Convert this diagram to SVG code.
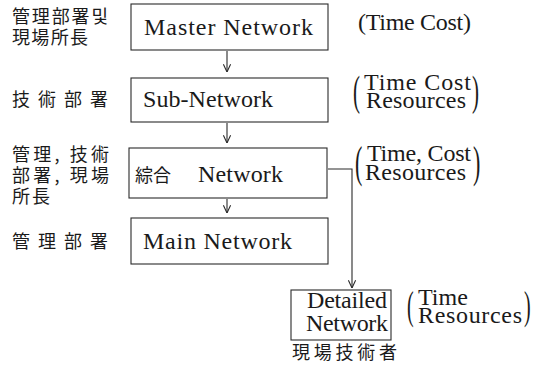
<svg xmlns="http://www.w3.org/2000/svg" width="543" height="370" viewBox="0 0 543 370">
  <style>
    .box { fill: none; stroke: #2a2a2a; stroke-width: 1.1; }
    .edge { fill: none; stroke: #2a2a2a; stroke-width: 1.1; }
    .lat { font-family: "Liberation Serif", "DejaVu Serif", "Times New Roman", serif; font-size: 24px; fill: #1a1a1a; }
    .cjk { font-family: "Noto Sans CJK KR", "Noto Sans CJK JP", sans-serif; font-size: 18px; fill: #1a1a1a; }
    .par { font-family: "Liberation Serif", "DejaVu Serif", "Times New Roman", serif; fill: #1a1a1a; }
  </style>
  <defs>
    <marker id="vee" viewBox="0 0 10 10" refX="9.5" refY="5" markerWidth="9" markerHeight="9" markerUnits="userSpaceOnUse" orient="auto">
      <path d="M1,1 L9.5,5 L1,9" fill="none" stroke="#2a2a2a" stroke-width="1.2"/>
    </marker>
  </defs>

  <!-- connectors -->
  <g id="connectors">
    <line class="edge" x1="227" y1="51" x2="227" y2="72" marker-end="url(#vee)"/>
    <line class="edge" x1="227" y1="123" x2="227" y2="143" marker-end="url(#vee)"/>
    <line class="edge" x1="227" y1="199" x2="227" y2="213" marker-end="url(#vee)"/>
    <polyline class="edge" points="328,169 352,169 352,288" marker-end="url(#vee)"/>
  </g>

  <!-- main chain of networks -->
  <g id="master">
    <rect class="box" x="131" y="4" width="197" height="46"/>
    <text class="lat" x="144" y="35" textLength="169" lengthAdjust="spacing">Master Network</text>
  </g>
  <g id="sub">
    <rect class="box" x="131" y="78" width="197" height="44"/>
    <text class="lat" x="143" y="107" textLength="130" lengthAdjust="spacing">Sub-Network</text>
  </g>
  <g id="combined">
    <rect class="box" x="129" y="148" width="198" height="50"/>
    <text class="cjk" x="135" y="182" font-size="20">綜合</text>
    <text class="lat" x="198" y="182" textLength="85" lengthAdjust="spacing">Network</text>
  </g>
  <g id="main">
    <rect class="box" x="131" y="218" width="197" height="46"/>
    <text class="lat" x="143" y="249" textLength="149" lengthAdjust="spacing">Main Network</text>
  </g>
  <g id="detailed">
    <rect class="box" x="291" y="290" width="100" height="50"/>
    <text class="lat" x="307" y="308" font-size="23" textLength="80" lengthAdjust="spacing">Detailed</text>
    <text class="lat" x="306" y="331" font-size="23" textLength="82" lengthAdjust="spacing">Network</text>
  </g>

  <!-- responsible departments -->
  <g id="who-master">
    <text class="cjk" x="12" y="23" textLength="96" lengthAdjust="spacing">管理部署및</text>
    <text class="cjk" x="12" y="44" textLength="76" lengthAdjust="spacing">現場所長</text>
  </g>
  <g id="who-sub">
    <text class="cjk" x="12" y="106" textLength="96" lengthAdjust="spacing">技術部署</text>
  </g>
  <g id="who-combined">
    <text class="cjk" x="12" y="161" textLength="97" lengthAdjust="spacing">管理, 技術</text>
    <text class="cjk" x="12" y="182" textLength="97" lengthAdjust="spacing">部署, 現場</text>
    <text class="cjk" x="12" y="203" textLength="38" lengthAdjust="spacing">所長</text>
  </g>
  <g id="who-main">
    <text class="cjk" x="12" y="248" textLength="96" lengthAdjust="spacing">管理部署</text>
  </g>
  <g id="who-detailed">
    <text class="cjk" x="292" y="359" font-size="20" textLength="105" lengthAdjust="spacing">現場技術者</text>
  </g>

  <!-- controlled quantities -->
  <g id="scope-master">
    <text class="lat" x="358" y="30" textLength="113" lengthAdjust="spacing">(Time Cost)</text>
  </g>
  <g id="scope-sub">
    <text class="par" font-size="42" transform="translate(353,105) scale(0.5,1)">(</text>
    <text class="lat" x="364" y="90" textLength="107" lengthAdjust="spacing">Time Cost</text>
    <text class="lat" x="366" y="108" textLength="100" lengthAdjust="spacing">Resources</text>
    <text class="par" font-size="42" transform="translate(472,105) scale(0.5,1)">)</text>
  </g>
  <g id="scope-combined">
    <text class="par" font-size="44" transform="translate(355,177) scale(0.5,1)">(</text>
    <text class="lat" x="367" y="161" textLength="104" lengthAdjust="spacing">Time, Cost</text>
    <text class="lat" x="365" y="180" textLength="101" lengthAdjust="spacing">Resources</text>
    <text class="par" font-size="44" transform="translate(473,177) scale(0.5,1)">)</text>
  </g>
  <g id="scope-detailed">
    <text class="par" font-size="40" transform="translate(407,319) scale(0.5,1)">(</text>
    <text class="lat" x="418" y="305">Time</text>
    <text class="lat" x="418" y="323" textLength="104" lengthAdjust="spacing">Resources</text>
    <text class="par" font-size="40" transform="translate(524,319) scale(0.5,1)">)</text>
  </g>
</svg>
